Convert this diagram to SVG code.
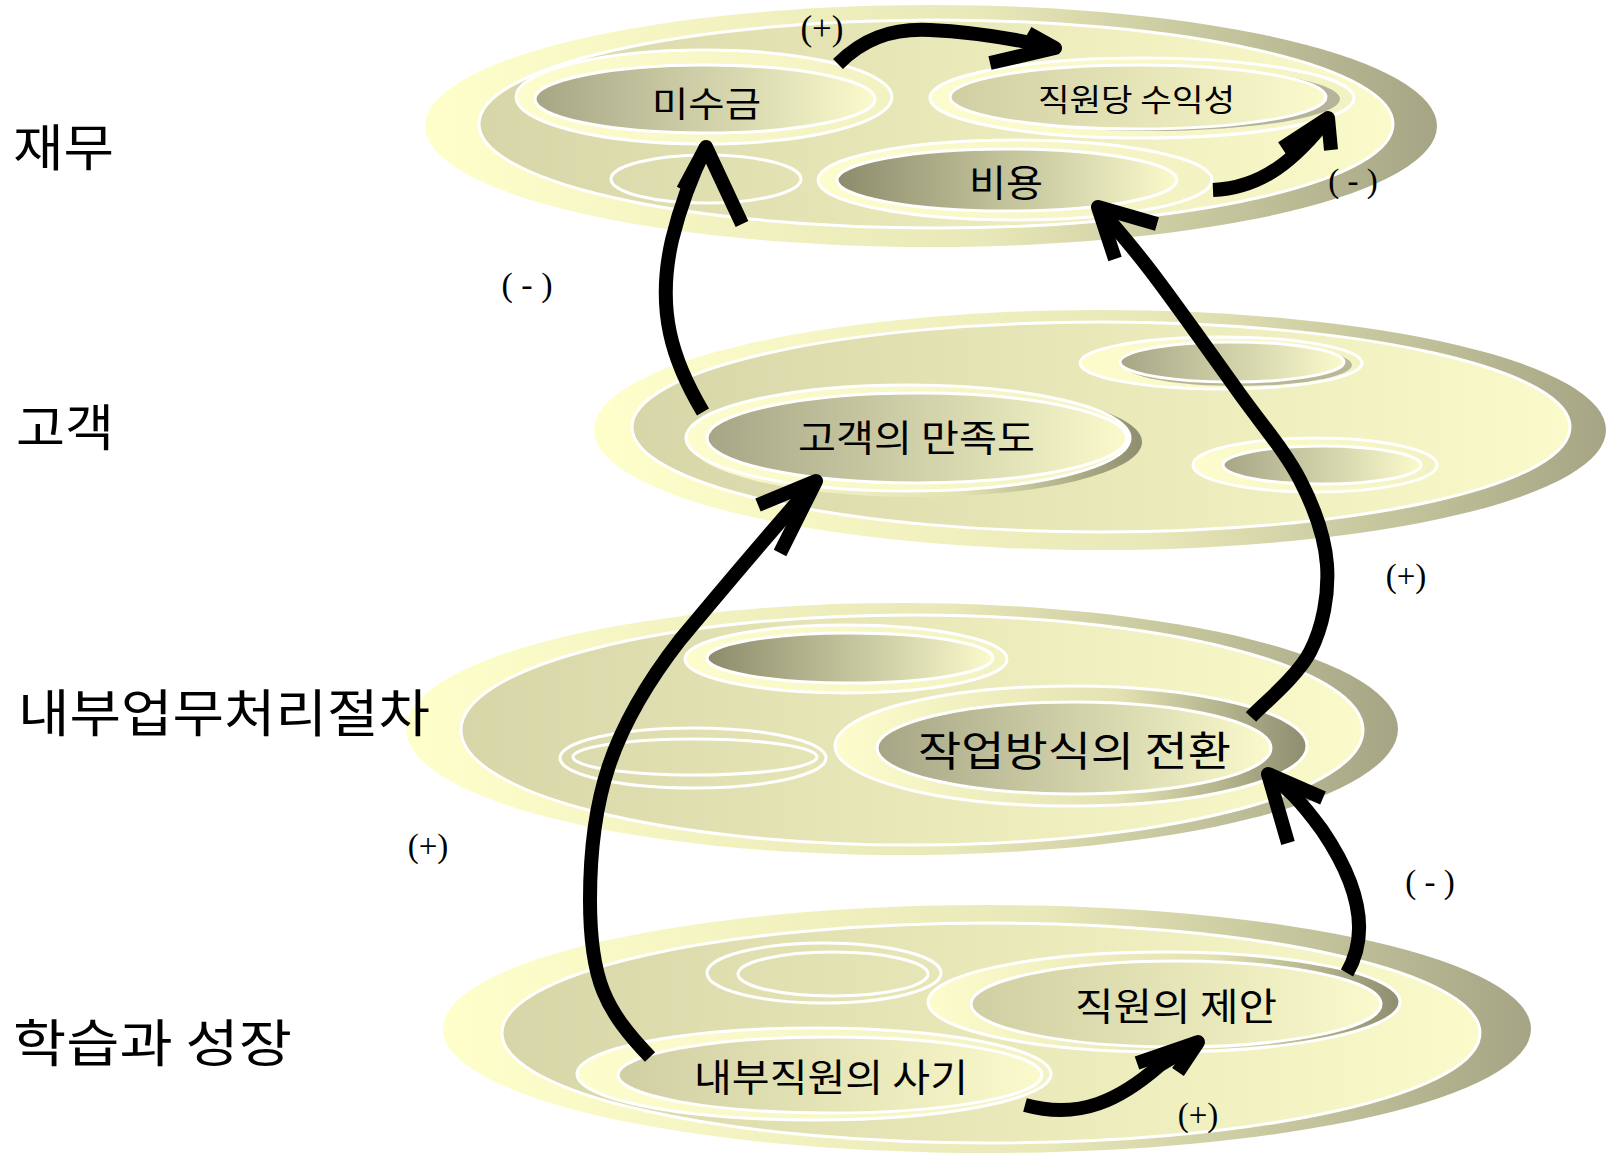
<svg xmlns="http://www.w3.org/2000/svg" width="1612" height="1154" viewBox="0 0 1612 1154">
<style>
.lbl{font-family:"Noto Sans CJK KR","Noto Sans",sans-serif;fill:#000;dominant-baseline:central}
.sign{font-family:"Liberation Serif","Times New Roman",serif;fill:#000;text-anchor:middle}
.w{stroke:#fff;stroke-width:3}
.shaft{fill:none;stroke:#000;stroke-width:14}
.head{fill:none;stroke:#000;stroke-width:14;stroke-linejoin:round}
</style>
<defs>
<linearGradient id="gOuter" x1="0" y1="0" x2="1" y2="0"><stop offset="0" stop-color="#FFFFCC"/><stop offset="0.55" stop-color="#E8E8B8"/><stop offset="1" stop-color="#A5A585"/></linearGradient>
<linearGradient id="gInner" x1="0" y1="0" x2="1" y2="0"><stop offset="0" stop-color="#D6D6A8"/><stop offset="1" stop-color="#FAFACA"/></linearGradient>
<linearGradient id="gRing" x1="0" y1="0" x2="1" y2="0"><stop offset="0" stop-color="#FCFCCC"/><stop offset="1" stop-color="#F2F2C2"/></linearGradient>
<linearGradient id="gRingDark" x1="0" y1="0" x2="1" y2="0"><stop offset="0" stop-color="#FCFCCC"/><stop offset="0.6" stop-color="#E2E2B2"/><stop offset="1" stop-color="#8E8E70"/></linearGradient>
<linearGradient id="gNodeDark" x1="0" y1="0" x2="1" y2="0"><stop offset="0" stop-color="#8C8C6C"/><stop offset="1" stop-color="#FAFACC"/></linearGradient>
<linearGradient id="gNodeMid" x1="0" y1="0" x2="1" y2="0"><stop offset="0" stop-color="#A6A686"/><stop offset="1" stop-color="#FAFACC"/></linearGradient>
<linearGradient id="gNodeLight" x1="0" y1="0" x2="1" y2="0"><stop offset="0" stop-color="#CFCFA3"/><stop offset="1" stop-color="#FAFACC"/></linearGradient>
</defs>

<!-- Layer 1: 재무 -->
<g id="layer-finance">
<ellipse cx="931" cy="126" rx="506" ry="121" fill="url(#gOuter)"/>
<ellipse cx="936" cy="124" rx="457" ry="104" fill="url(#gInner)" class="w"/>
</g>
<g id="node-finance-blank">
<ellipse cx="706" cy="179" rx="95" ry="24" fill="none" class="w"/>
</g>
<g id="node-misugeum">
<ellipse cx="704" cy="97" rx="188" ry="47" fill="url(#gRing)" class="w"/>
<ellipse cx="705" cy="99" rx="170" ry="34" fill="url(#gNodeMid)" class="w"/>
<text class="lbl" x="652" y="101" font-size="35" textLength="109" lengthAdjust="spacingAndGlyphs">미수금</text>
</g>
<g id="node-profit">
<ellipse cx="1142" cy="98" rx="212" ry="40" fill="url(#gRing)" class="w"/>
<ellipse cx="1150" cy="99" rx="190" ry="32" fill="#B4B49A"/>
<ellipse cx="1138" cy="97" rx="188" ry="32" fill="url(#gNodeLight)" class="w"/>
<text class="lbl" x="1038" y="97" font-size="31" textLength="197" lengthAdjust="spacingAndGlyphs">직원당 수익성</text>
</g>
<g id="node-cost">
<ellipse cx="1015" cy="180" rx="197" ry="40" fill="url(#gRing)" class="w"/>
<ellipse cx="1007" cy="180" rx="170" ry="31" fill="url(#gNodeDark)" class="w"/>
<text class="lbl" x="969" y="181" font-size="37" textLength="74" lengthAdjust="spacingAndGlyphs">비용</text>
</g>

<!-- Layer 2: 고객 -->
<g id="layer-customer">
<ellipse cx="1100" cy="430" rx="506" ry="120" fill="url(#gOuter)"/>
<ellipse cx="1101" cy="427" rx="469" ry="105" fill="url(#gInner)" class="w"/>
</g>
<g id="node-satisfaction">
<ellipse cx="916" cy="442" rx="226" ry="55" fill="url(#gRingDark)"/>
<ellipse cx="908" cy="438" rx="222" ry="53" fill="url(#gRing)" class="w"/>
<ellipse cx="917" cy="438" rx="210" ry="45" fill="url(#gNodeMid)" class="w"/>
<text class="lbl" x="798" y="436" font-size="37" textLength="237" lengthAdjust="spacingAndGlyphs">고객의 만족도</text>
</g>
<g id="node-customer-blank1">
<ellipse cx="1221" cy="363" rx="141" ry="26" fill="url(#gRing)" class="w"/>
<ellipse cx="1238" cy="365" rx="114" ry="21" fill="#B8B898"/>
<ellipse cx="1232" cy="362" rx="112" ry="20" fill="url(#gNodeMid)" class="w"/>
</g>
<g id="node-customer-blank2">
<ellipse cx="1315" cy="465" rx="122" ry="27" fill="url(#gRing)" class="w"/>
<ellipse cx="1322" cy="465" rx="99" ry="19" fill="url(#gNodeMid)" class="w"/>
</g>

<!-- Layer 3: 내부업무처리절차 -->
<g id="layer-process">
<ellipse cx="902" cy="729" rx="496" ry="126" fill="url(#gOuter)"/>
<ellipse cx="912" cy="730" rx="451" ry="115" fill="url(#gInner)" class="w"/>
</g>
<g id="node-process-blank1">
<ellipse cx="846" cy="659" rx="161" ry="34" fill="url(#gRing)" class="w"/>
<ellipse cx="850" cy="658" rx="143" ry="25" fill="url(#gNodeDark)" class="w"/>
</g>
<g id="node-process-blank2">
<ellipse cx="693" cy="758" rx="133" ry="30" fill="none" class="w"/>
<ellipse cx="695" cy="757" rx="122" ry="18" fill="none" class="w"/>
</g>
<g id="node-workstyle">
<ellipse cx="1071" cy="746" rx="236" ry="60" fill="url(#gRingDark)" class="w"/>
<ellipse cx="1074" cy="748" rx="197" ry="46" fill="url(#gNodeMid)" class="w"/>
<text class="lbl" x="918" y="748" font-size="41" textLength="313" lengthAdjust="spacingAndGlyphs">작업방식의 전환</text>
</g>

<!-- Layer 4: 학습과 성장 -->
<g id="layer-learning">
<ellipse cx="987" cy="1029" rx="544" ry="124" fill="url(#gOuter)"/>
<ellipse cx="991" cy="1033" rx="489" ry="110" fill="url(#gInner)" class="w"/>
</g>
<g id="node-learning-blank">
<ellipse cx="824" cy="973" rx="117" ry="30" fill="none" class="w"/>
<ellipse cx="833" cy="974" rx="95" ry="22" fill="none" class="w"/>
</g>
<g id="node-suggestion">
<ellipse cx="1164" cy="1002" rx="236" ry="50" fill="url(#gRingDark)" class="w"/>
<ellipse cx="1176" cy="1004" rx="205" ry="43" fill="url(#gNodeLight)" class="w"/>
<text class="lbl" x="1075" y="1003" font-size="38" textLength="202" lengthAdjust="spacingAndGlyphs">직원의 제안</text>
</g>
<g id="node-morale">
<ellipse cx="814" cy="1074" rx="237" ry="46" fill="url(#gRing)" class="w"/>
<ellipse cx="830" cy="1075" rx="212" ry="38" fill="url(#gNodeLight)" class="w"/>
<text class="lbl" x="694" y="1074" font-size="38" textLength="274" lengthAdjust="spacingAndGlyphs">내부직원의 사기</text>
</g>

<!-- Perspective labels -->
<g id="labels">
<text class="lbl" x="13" y="144" font-size="50" textLength="101" lengthAdjust="spacingAndGlyphs">재무</text>
<text class="lbl" x="16" y="424" font-size="50" textLength="98" lengthAdjust="spacingAndGlyphs">고객</text>
<text class="lbl" x="18" y="710" font-size="51" textLength="412" lengthAdjust="spacingAndGlyphs">내부업무처리절차</text>
<text class="lbl" x="13" y="1040" font-size="51" textLength="279" lengthAdjust="spacingAndGlyphs">학습과 성장</text>
</g>

<!-- Connectors -->
<g id="connectors">
<path class="shaft" d="M 838 64 C 862 40, 890 28, 930 30 C 975 32, 1020 40, 1055 48"/>
<polyline class="head" points="1028,33 1055,48 990,63"/>
<path class="shaft" d="M 1213 190 C 1262 188, 1295 160, 1328 118"/>
<polyline class="head" points="1282,148 1328,118 1331,150"/>
<path class="shaft" d="M 703 412 C 672 360, 656 310, 672 240 C 683 195, 697 165, 706 147"/>
<polyline class="head" points="683,190 706,147 742,224"/>
<path class="shaft" d="M 1251 717 C 1261 706, 1297 677, 1310 652 C 1323 627, 1329 594, 1327 565 C 1325 536, 1315 509, 1300 480 C 1285 451, 1262 425, 1237 390 C 1212 355, 1173 300, 1150 270 C 1127 240, 1107 218, 1098 207"/>
<polyline class="head" points="1157,224 1098,207 1115,259"/>
<path class="shaft" d="M 1347 973 C 1372 930, 1356 880, 1322 830 C 1300 800, 1285 785, 1268 774"/>
<polyline class="head" points="1323,798 1268,774 1288,843"/>
<path class="shaft" d="M 650 1057 C 605 1010, 590 980, 590 900 C 590 800, 610 730, 680 640 C 730 580, 790 510, 816 481"/>
<polyline class="head" points="758,505 816,481 780,553"/>
<path class="shaft" d="M 1025 1105 C 1080 1120, 1120 1100, 1160 1065 L 1198 1042"/>
<polyline class="head" points="1137,1063 1198,1042 1178,1072"/>
</g>

<g id="signs">
<text class="sign" x="822" y="40" font-size="35">(+)</text>
<text class="sign" x="1353" y="192" font-size="33">( - )</text>
<text class="sign" x="527" y="296" font-size="34">( - )</text>
<text class="sign" x="1406" y="587" font-size="33">(+)</text>
<text class="sign" x="428" y="857" font-size="33">(+)</text>
<text class="sign" x="1430" y="893" font-size="33">( - )</text>
<text class="sign" x="1198" y="1126" font-size="33">(+)</text>
</g>
</svg>
